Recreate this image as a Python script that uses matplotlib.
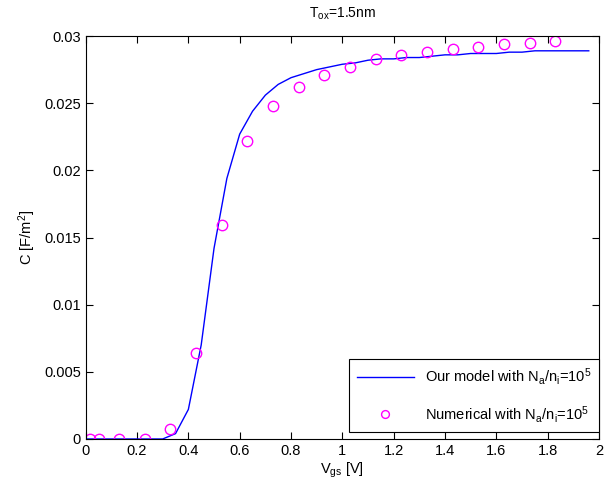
import matplotlib
matplotlib.use('Agg')
import matplotlib.pyplot as plt
import numpy as np

plt.rcParams['font.family'] = ['Liberation Sans', 'DejaVu Sans']
plt.rcParams['mathtext.default'] = 'regular'

# model curve, C-V at 0.05 V steps
v_model = [0.00, 0.05, 0.10, 0.15, 0.20, 0.25, 0.30, 0.35, 0.40, 0.45,
           0.50, 0.55, 0.60, 0.65, 0.70, 0.75, 0.80, 0.85, 0.90, 0.95,
           1.00, 1.05, 1.10, 1.15, 1.20, 1.25, 1.30, 1.35, 1.40, 1.45,
           1.50, 1.55, 1.60, 1.65, 1.70, 1.75, 1.80, 1.85, 1.90, 1.96]
c_model = [0.0, 0.0, 0.0, 0.0, 0.0, 0.0, 0.0, 0.0004, 0.0022, 0.0070,
           0.0142, 0.0194, 0.0227, 0.0244, 0.0256, 0.0264, 0.0269, 0.0272, 0.0275, 0.0277,
           0.0279, 0.0280, 0.0282, 0.0283, 0.0283, 0.0284, 0.0284, 0.0285, 0.0286, 0.0286,
           0.0287, 0.0287, 0.0287, 0.0288, 0.0288, 0.0289, 0.0289, 0.0289, 0.0289, 0.0289]

# numerical solution
v_num = [0.017, 0.053, 0.13, 0.23, 0.33, 0.43, 0.53, 0.63, 0.73, 0.83,
         0.93, 1.03, 1.13, 1.23, 1.33, 1.43, 1.53, 1.63, 1.73, 1.83]
c_num = [0.0, 0.0, 0.0, 0.0, 0.00077, 0.00638, 0.0159, 0.0222, 0.0248, 0.0262,
         0.0271, 0.0277, 0.0283, 0.0286, 0.0288, 0.0290, 0.0292, 0.0294, 0.0295, 0.0296]

fig = plt.figure(figsize=(6.10, 4.87), dpi=100)
ax = fig.add_axes([0.1405, 0.0986, 0.8415, 0.8274])

ax.plot(v_model, c_model, color='#0000ff', lw=1.0,
        label=r'Our model with N$_a$/n$_i$=10$^5$')
ax.plot(v_num, c_num, 'o', mfc='none', mec='#ff00ff', ms=7.5, mew=1.0,
        label=r'Numerical with N$_a$/n$_i$=10$^5$')

ax.set_xlim(0, 2)
ax.set_ylim(0, 0.03)
ax.set_xticks(np.arange(0, 2.01, 0.2))
ax.set_xticklabels(['0', '0.2', '0.4', '0.6', '0.8', '1', '1.2', '1.4', '1.6', '1.8', '2'])
ax.set_yticks(np.arange(0, 0.0301, 0.005))
ax.set_yticklabels(['0', '0.005', '0.01', '0.015', '0.02', '0.025', '0.03'])
ax.tick_params(direction='in', top=True, right=True, length=5, labelsize=10.5)

ax.set_xlabel(r'V$_{gs}$ [V]', fontsize=10.5, labelpad=2)
ax.set_ylabel(r'C [F/m$^2$]', fontsize=10.5)
ax.set_title(r'T$_{ox}$=1.5nm', fontsize=10, pad=13)

leg = ax.legend(loc='lower right', bbox_to_anchor=(1.0, 0.017), borderaxespad=0,
                fontsize=10.5, fancybox=False, edgecolor='black', framealpha=1,
                handlelength=3.9, labelspacing=1.15, borderpad=0.5,
                markerscale=0.75)
leg.get_frame().set_linewidth(0.8)

fig.savefig('out.png', dpi=100)
